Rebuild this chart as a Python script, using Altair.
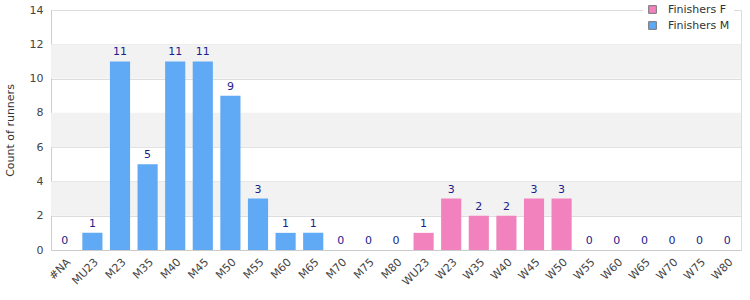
import altair as alt
import pandas as pd

categories = ["#NA", "MU23", "M23", "M35", "M40", "M45", "M50", "M55", "M60", "M65", "M70", "M75", "M80",
              "WU23", "W23", "W35", "W40", "W45", "W50", "W55", "W60", "W65", "W70", "W75", "W80"]
counts = [0, 1, 11, 5, 11, 11, 9, 3, 1, 1, 0, 0, 0,
          1, 3, 2, 2, 3, 3, 0, 0, 0, 0, 0, 0]
series = ["Finishers M"] * 13 + ["Finishers F"] * 12
band_lo = [2, 6, 10]
band_hi = [4, 8, 12]
y_ticks = [0, 2, 4, 6, 8, 10, 12, 14]

df = pd.DataFrame({"cat": categories, "count": counts, "series": series})
bands = pd.DataFrame({"lo": band_lo, "hi": band_hi})

FONT = "DejaVu Sans"
y_scale = alt.Scale(domain=[0, 14], nice=False)
x_scale = alt.Scale(paddingInner=0.27, paddingOuter=0.135)
x_axis = alt.Axis(title=None, labelAngle=-45, labelAlign="right", labelBaseline="top",
                  labelFont=FONT, labelFontSize=11, labelColor="#444", ticks=False,
                  domainColor="#ccc", labelPadding=6)
y_axis = alt.Axis(title="Count of runners", values=y_ticks, labelOverlap=False,
                  grid=True, gridColor="#dddddd", domainColor="#ccc", ticks=False,
                  labelFont=FONT, labelFontSize=11, labelColor="#444", labelPadding=8,
                  titleFont=FONT, titleFontSize=11, titleFontWeight="normal",
                  titleColor="#333", titlePadding=14)

band_layer = alt.Chart(bands).mark_rect(color="#f2f2f2").encode(
    y=alt.Y("lo:Q", scale=y_scale, axis=y_axis), y2="hi:Q", x=alt.value(0), x2=alt.value(690))

bars = alt.Chart(df).mark_bar().encode(
    x=alt.X("cat:N", sort=categories, scale=x_scale, axis=x_axis),
    y=alt.Y("count:Q", scale=y_scale, axis=y_axis),
    color=alt.Color("series:N", scale=alt.Scale(domain=["Finishers F", "Finishers M"],
                                                range=["#f282bd", "#60a9f4"]),
                    legend=alt.Legend(title=None, orient="none", legendX=592, legendY=-10,
                                      fillColor="white", padding=4, symbolType="square",
                                      symbolSize=60, symbolStrokeColor="#777", symbolStrokeWidth=1,
                                      labelFont=FONT, labelFontSize=11, labelColor="#333",
                                      rowPadding=3, labelOffset=10)))

labels = alt.Chart(df).mark_text(dy=-4, font=FONT, fontSize=11, color="#1c1c8c", baseline="bottom").encode(
    x=alt.X("cat:N", sort=categories, scale=x_scale, axis=x_axis),
    y=alt.Y("count:Q", scale=y_scale, axis=y_axis),
    text="count:Q")

chart = alt.layer(band_layer, bars, labels).properties(
    width=690, height=240, autosize=alt.AutoSizeParams(type="none"),
    padding={"left": 51, "top": 10, "right": 9, "bottom": 50}
).configure_view(stroke="#dddddd")

chart.save("out.html", embed_options={"renderer": "svg", "actions": False})
